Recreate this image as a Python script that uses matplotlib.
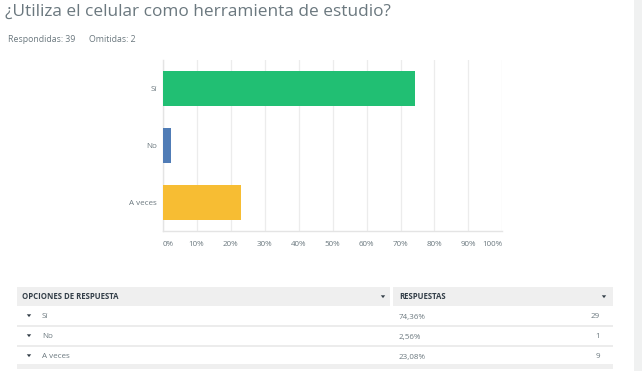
import matplotlib
matplotlib.use("Agg")
import matplotlib.pyplot as plt
from matplotlib.patches import Rectangle, Polygon

plt.rcParams['font.family'] = ['Open Sans', 'DejaVu Sans']

title = "¿Utiliza el celular como herramienta de estudio?"
subtitle_answered = "Respondidas: 39"
subtitle_skipped = "Omitidas: 2"
categories = ["Sí", "No", "A veces"]
percentages = [74.36, 2.56, 23.08]
counts = [29, 1, 9]
pct_labels = ["74,36%", "2,56%", "23,08%"]
colors = ["#21bf73", "#507cb6", "#f7bd33"]
xticks = [0, 10, 20, 30, 40, 50, 60, 70, 80, 90, 100]
header_left = "OPCIONES DE RESPUESTA"
header_right = "RESPUESTAS"

W, H = 642, 371
fig = plt.figure(figsize=(W / 100, H / 100), dpi=100)

def fx(x):
    return x / W

def fy(y):
    return 1 - y / H

# right gray strip
fig.patches.append(Rectangle((fx(634), 0), fx(W) - fx(634), 1, transform=fig.transFigure,
                             facecolor="#f0f1f1", edgecolor="none", zorder=0))

fig.text(fx(5), fy(12), title, fontsize=12.4, color="#6b787f", va="center", ha="left")
fig.text(fx(8.5), fy(39.5), subtitle_answered, fontsize=6.3, color="#6b787f", va="center")
fig.text(fx(89), fy(39.5), subtitle_skipped, fontsize=6.3, color="#6b787f", va="center")

ax = fig.add_axes([fx(162.5), fy(231), fx(502.5) - fx(162.5), fy(60) - fy(231)])
ypos = list(range(len(categories)))
ax.barh(ypos, percentages, height=0.63, color=colors, zorder=3)
ax.set_ylim(2.5, -0.5)
ax.set_xlim(0, 100)
ax.set_yticks(ypos)
ax.set_yticklabels(categories)
ax.set_xticks(xticks)
ax.set_xticklabels([f"{v}%" for v in xticks])
xl = ax.get_xticklabels()
xl[0].set_ha("left")
xl[-1].set_ha("right")
ax.tick_params(axis="both", length=0, labelsize=5.8, labelcolor="#6b787f")
ax.tick_params(axis="x", pad=7.5)
ax.tick_params(axis="y", pad=3.8)
ax.grid(axis="x", color="#ececec", linewidth=0.9, zorder=0)
for s in ["top", "right"]:
    ax.spines[s].set_visible(False)
for s in ["left", "bottom"]:
    ax.spines[s].set_color("#e4e4e4")
    ax.spines[s].set_linewidth(1.0)

# table
def rect(x0, y0, x1, y1, color):
    fig.patches.append(Rectangle((fx(x0), fy(y1)), fx(x1) - fx(x0), fy(y0) - fy(y1),
                                 transform=fig.transFigure, facecolor=color, edgecolor="none"))

def tri(cx, cy, color):
    fig.patches.append(Polygon([(fx(cx - 2.2), fy(cy - 1.2)), (fx(cx + 2.2), fy(cy - 1.2)), (fx(cx), fy(cy + 1.6))],
                               closed=True, transform=fig.transFigure, facecolor=color, edgecolor="none"))

rect(17, 287, 390, 305.5, "#efefef")
rect(393, 287, 613, 305.5, "#efefef")
fig.text(fx(22), fy(296.5), header_left, fontsize=5.6, color="#333e48", weight="bold", va="center")
fig.text(fx(399), fy(296.5), header_right, fontsize=5.6, color="#333e48", weight="bold", va="center")
tri(383, 296.5, "#333e48")
tri(604, 296.5, "#333e48")

row_tops = [305.5, 325.5, 345.5]
for i, (cat, pl, c) in enumerate(zip(categories, pct_labels, counts)):
    yc = row_tops[i] + 10
    tri(29, yc, "#333e48")
    fig.text(fx(42), fy(yc + 1.5), cat, fontsize=5.8, color="#6b787f", va="center")
    fig.text(fx(399), fy(yc + 1.5), pl, fontsize=5.8, color="#6b787f", va="center")
    fig.text(fx(600), fy(yc + 1.5), str(c), fontsize=5.8, color="#6b787f", va="center", ha="right")
    if i < len(categories) - 1:
        rect(17, row_tops[i + 1] - 1, 613, row_tops[i + 1] + 1, "#ececec")
rect(17, 364, 613, 369, "#efefef")

fig.savefig("out.png", dpi=100)
